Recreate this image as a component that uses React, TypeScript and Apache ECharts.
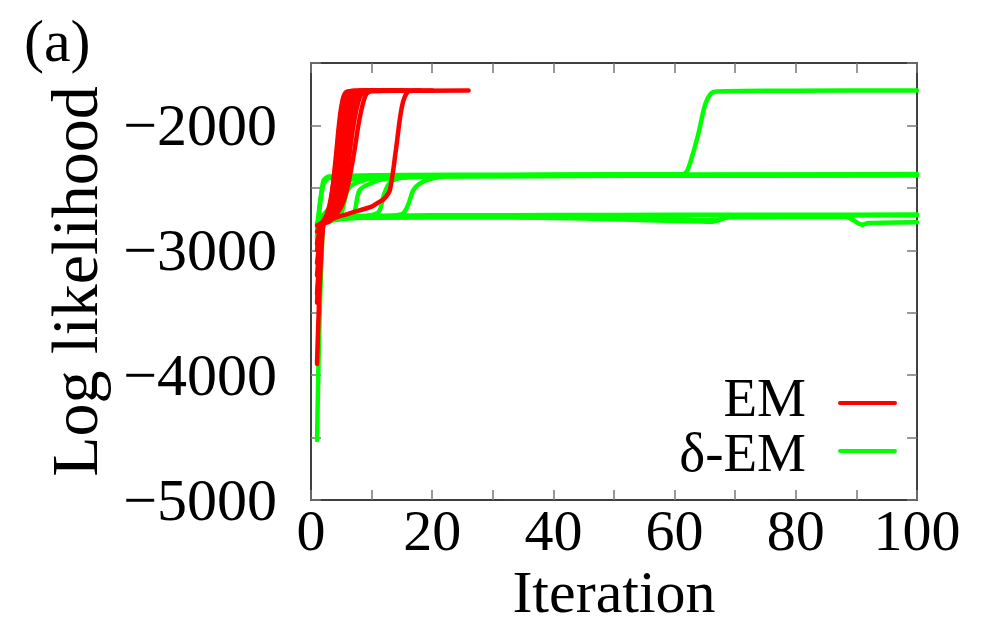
import React, { useEffect, useRef } from "react";
import * as echarts from "echarts";

// ---- Data (iteration, log likelihood) ----
const emRun1 = [[1, -3910], [2, -2800], [3, -2720], [4, -2450], [5, -2000], [6, -1760], [7, -1724], [12, -1720]];
const emRun2 = [[1, -3420], [2, -2790], [3, -2700], [4, -2300], [5, -1850], [6, -1728], [11, -1720]];
const emRun3 = [[1, -2940], [2, -2780], [3, -2740], [4, -2620], [5, -2350], [6, -2000], [7, -1760], [8, -1722], [14, -1720]];
const emRun4 = [[1, -3200], [2, -2790], [3, -2760], [4, -2680], [5, -2500], [6, -2150], [7, -1850], [8, -1735], [9, -1722], [16, -1720]];
const emRun5 = [[1, -2850], [2, -2780], [3, -2750], [4, -2700], [5, -2600], [6, -2350], [7, -2000], [8, -1780], [9, -1725], [18, -1720]];
const emRun6 = [[1, -3000], [2, -2790], [3, -2770], [4, -2720], [5, -2650], [6, -2500], [7, -2250], [8, -1950], [9, -1760], [10, -1724], [20, -1720]];
const emRun7 = [[1, -2950], [2, -2790], [4, -2740], [6, -2710], [8, -2680], [10, -2650], [11, -2620], [12, -2590], [13, -2520], [14, -2200], [15, -1850], [16, -1730], [17, -1722], [26, -1720]];
const emRun8 = [[1, -3100], [2, -2785], [3, -2700], [4, -2550], [5, -2200], [6, -1830], [7, -1730], [13, -1720]];
const emRun9 = [[1, -2800], [2, -2770], [3, -2650], [4, -2350], [5, -1900], [6, -1740], [7, -1722], [10, -1720]];
const emRun10 = [[1, -3350], [2, -2800], [3, -2760], [4, -2700], [5, -2550], [6, -2300], [7, -1950], [8, -1760], [9, -1725], [15, -1720]];

const dEmRun1 = [[1, -4520], [2, -2780], [3, -2745], [10, -2740], [30, -2735], [47, -2748], [64, -2770], [66, -2772], [69, -2735], [88, -2732], [89, -2745], [91, -2796], [92, -2782], [100, -2775]];
const dEmRun2 = [[1, -2950], [2, -2760], [5, -2725], [20, -2720], [40, -2718], [60, -2716], [80, -2715], [100, -2714]];
const dEmRun3 = [[1, -3000], [2, -2740], [4, -2730], [30, -2735], [50, -2740], [60, -2745], [64, -2760], [67, -2755], [70, -2725], [100, -2720]];
const dEmRun4 = [[1, -2820], [2, -2480], [3, -2420], [10, -2400], [30, -2395], [50, -2392], [61, -2392], [62, -2370], [63, -2230], [64, -2050], [65, -1840], [66, -1745], [67, -1728], [80, -1722], [100, -1720]];
const dEmRun5 = [[1, -2900], [2, -2450], [3, -2410], [20, -2400], [40, -2398], [60, -2395], [80, -2393], [100, -2390]];
const dEmRun6 = [[1, -2880], [2, -2770], [4, -2730], [5, -2700], [6, -2520], [7, -2470], [9, -2435], [12, -2412], [30, -2400], [60, -2398], [100, -2395]];
const dEmRun7 = [[1, -2800], [2, -2760], [6, -2740], [11, -2700], [12, -2560], [13, -2460], [15, -2420], [25, -2405], [100, -2400]];
const dEmRun8 = [[1, -2850], [2, -2770], [8, -2740], [15, -2710], [16, -2640], [17, -2510], [19, -2440], [23, -2405], [50, -2400], [100, -2398]];
const dEmRun9 = [[1, -2780], [2, -2720], [4, -2600], [5, -2480], [7, -2430], [12, -2405], [100, -2395]];
const dEmRun10 = [[1, -2900], [2, -2780], [5, -2750], [7, -2710], [8, -2520], [10, -2460], [12, -2430], [18, -2410], [100, -2398]];

const emRuns = [emRun1, emRun2, emRun3, emRun4, emRun5, emRun6, emRun7, emRun8, emRun9, emRun10];
const deltaEmRuns = [dEmRun1, dEmRun2, dEmRun3, dEmRun4, dEmRun5, dEmRun6, dEmRun7, dEmRun8, dEmRun9, dEmRun10];

const seriesNames = ["EM", "δ-EM"];
const xLabelStep = 20;
const yLabelStep = 1000;

const FONT = '"Liberation Serif", "DejaVu Serif", serif';
const RED = "#ff0000";
const GREEN = "#00ff00";

function fmtNum(v: number): string {
  return v < 0 ? "\u2212" + Math.abs(v) : String(v);
}

export default function App() {
  const ref = useRef<HTMLDivElement>(null);
  useEffect(() => {
    if (!ref.current) return;
    const chart = echarts.init(ref.current, null, { renderer: "svg" });
    const mk = (data: number[][], name: string, color: string) => ({
      type: "line",
      name,
      data,
      showSymbol: false,
      symbol: "none",
      smooth: 0.3,
      lineStyle: { color, width: 4.5, cap: "round", join: "round" },
      itemStyle: { color },
      silent: true,
      z: color === RED ? 3 : 2,
    });
    const series: any[] = [
      ...deltaEmRuns.map((d) => mk(d, seriesNames[1], GREEN)),
      ...emRuns.map((d) => mk(d, seriesNames[0], RED)),
    ];
    const tickStyle = { color: "#777", width: 1.5 };
    const lineStyle = { color: "#000", width: 1.5 };
    chart.setOption({
      animation: false,
      backgroundColor: "#fff",
      grid: { left: 311, right: 74, top: 63, bottom: 132, containLabel: false, outerBoundsMode: "none" },
      xAxis: [
        {
          type: "value",
          min: 0,
          max: 100,
          interval: 10,
          position: "bottom",
          axisLine: { show: true, onZero: false, lineStyle },
          axisTick: { show: true, inside: true, length: 10, lineStyle: tickStyle },
          splitLine: { show: false },
          axisLabel: {
            formatter: (v: number) => (v % xLabelStep === 0 ? fmtNum(v) : ""),
            fontSize: 58,
            fontFamily: FONT,
            color: "#000",
            margin: 1,
          },
          name: "Iteration",
          nameLocation: "middle",
          nameGap: 62,
          nameMoveOverlap: false,
          nameTextStyle: { fontSize: 60, fontFamily: FONT, color: "#000" },
        },
        {
          type: "value",
          min: 0,
          max: 100,
          interval: 10,
          position: "top",
          axisLine: { show: true, onZero: false, lineStyle },
          axisTick: { show: true, inside: true, length: 10, lineStyle: tickStyle },
          splitLine: { show: false },
          axisLabel: { show: false },
        },
      ],
      yAxis: [
        {
          type: "value",
          min: -5000,
          max: -1500,
          interval: 500,
          position: "left",
          axisLine: { show: true, onZero: false, lineStyle },
          axisTick: { show: true, inside: true, length: 10, lineStyle: tickStyle },
          splitLine: { show: false },
          axisLabel: {
            formatter: (v: number) => (v % yLabelStep === 0 ? fmtNum(v) : ""),
            fontSize: 60,
            fontFamily: FONT,
            color: "#000",
            margin: 34,
          },
          name: "Log likelihood",
          nameLocation: "middle",
          nameGap: 204,
          nameMoveOverlap: false,
          nameRotate: 90,
          nameTextStyle: { fontSize: 66, fontFamily: FONT, color: "#000" },
        },
        {
          type: "value",
          min: -5000,
          max: -1500,
          interval: 500,
          position: "right",
          axisLine: { show: true, onZero: false, lineStyle },
          axisTick: { show: true, inside: true, length: 10, lineStyle: tickStyle },
          splitLine: { show: false },
          axisLabel: { show: false },
        },
      ],
      graphic: [
        {
          type: "text",
          left: 24,
          top: 11,
          style: { text: "(a)", fontSize: 60, fontFamily: FONT, fill: "#000" },
        },
        {
          type: "text",
          x: 806,
          y: 397,
          style: { text: seriesNames[0], fontSize: 55, fontFamily: FONT, fill: "#000", align: "right", verticalAlign: "middle" },
        },
        {
          type: "line",
          shape: { x1: 840, y1: 403, x2: 895, y2: 403 },
          style: { stroke: RED, lineWidth: 4, lineCap: "round" },
        },
        {
          type: "text",
          x: 806,
          y: 452,
          style: { text: seriesNames[1], fontSize: 55, fontFamily: FONT, fill: "#000", align: "right", verticalAlign: "middle" },
        },
        {
          type: "line",
          shape: { x1: 840, y1: 451, x2: 895, y2: 451 },
          style: { stroke: GREEN, lineWidth: 4, lineCap: "round" },
        },
      ],
      series,
    });
    return () => chart.dispose();
  }, []);
  return <div ref={ref} style={{ width: 991, height: 632, position: "absolute", left: 0, top: 0 }} />;
}
